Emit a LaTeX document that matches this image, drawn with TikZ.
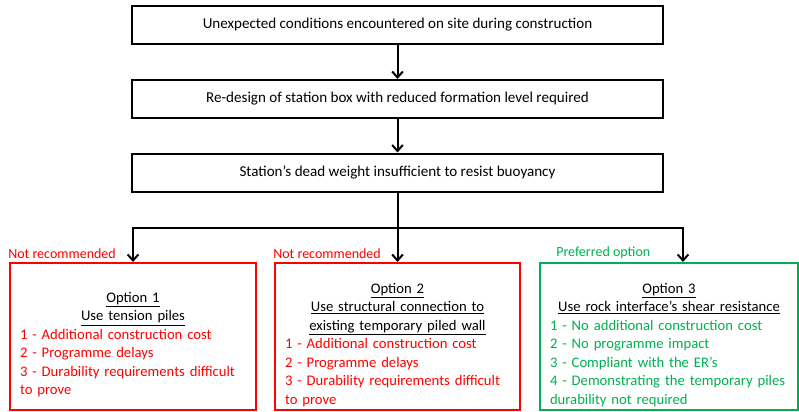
\documentclass[tikz,border=0pt]{standalone}
\usepackage{fontspec}
\setmainfont{Carlito}
\usetikzlibrary{positioning,arrows.meta}
\definecolor{OptRed}{RGB}{255,0,0}
\definecolor{OptGreen}{RGB}{0,176,80}
\newcommand{\optfont}{\fontsize{11}{13.85}\selectfont}
\newcommand{\headline}[1]{\makebox[\linewidth]{\makebox[0pt][l]{\underline{#1}}\phantom{#1}}} % centred, underlined, same line height
\newcommand{\toplift}{\rule{0pt}{20pt}} % pushes the box text a little down

\begin{document}
\begin{tikzpicture}[x=0.75pt, y=-0.75pt,
  stepbox/.style={draw=black, line width=1.5pt, minimum width=398.25pt, minimum height=28.5pt, inner sep=0pt, font=\fontsize{11.3}{13.9}\selectfont},
  optbox/.style={draw, line width=1.5pt, minimum height=110.25pt, inner sep=0pt, align=left, font=\optfont},
  note/.style={inner sep=0pt, font=\fontsize{10.5}{13}\selectfont},
  flow/.style={line width=1.5pt, -{Straight Barb[length=4.5pt,width=8pt,line width=1.5pt]}},
  link/.style={line width=1.5pt}]
\pgfmathsetmacro{\xm}{397.5} % middle of the column of steps
\pgfmathsetmacro{\ys}{228} % level of the split line
\useasboundingbox (0,0) rectangle (799,411);

\node[stepbox] (cond) at (\xm,25) {Unexpected conditions encountered on site during construction};
\node[stepbox] (redesign) at (\xm,99) {Re-design of station box with reduced formation level required};
\node[stepbox] (weight) at (\xm,172.5) {Station's dead weight insufficient to resist buoyancy};

\node[optbox, draw=OptRed, minimum width=184.5pt, text width=169.5pt] (opt1) at (133,336.5)
 {\toplift\headline{Option 1}\\\headline{Use tension piles}\\
  \color{OptRed}1 - Additional construction cost\\2 - Programme delays\\3 - Durability requirements difficult\\to prove};
\node[optbox, draw=OptRed, minimum width=183.75pt, text width=168.75pt] (opt2) at (397.5,336.5)
 {\toplift\headline{Option 2}\\\headline{Use structural connection to}\\\headline{existing temporary piled wall}\\
  \color{OptRed}1 - Additional construction cost\\2 - Programme delays\\3 - Durability requirements difficult\\to prove};
\node[optbox, draw=OptGreen, minimum width=193.5pt, text width=178.5pt] (opt3) at (669,336.5)
 {\toplift\headline{Option 3}\\\headline{Use rock interface's shear resistance}\\
  \color{OptGreen}1 - No additional construction cost\\2 - No programme impact\\3 - Compliant with the ER's\\4 - Demonstrating the temporary piles\\durability not required};

\node[note, text=OptRed, above right=2.25pt and -0.75pt of opt1.north west] (rej1) {Not recommended};
\node[note, text=OptRed, above right=2.25pt and -0.75pt of opt2.north west] (rej2) {Not recommended};
\node[note, text=OptGreen, above right=2.25pt and 12.75pt of opt3.north west] (pref) {Preferred option};

\coordinate (split) at (\xm,\ys);
\draw[flow] (cond) -- (redesign);
\draw[flow] (redesign) -- (weight);
\draw[link] (weight) -- (split);
\draw[flow] (split) -| (opt1.north);
\draw[flow] (split) -- (opt2);
\draw[flow] (split) -| ([xshift=10.5pt]opt3.north);
\end{tikzpicture}
\end{document}
